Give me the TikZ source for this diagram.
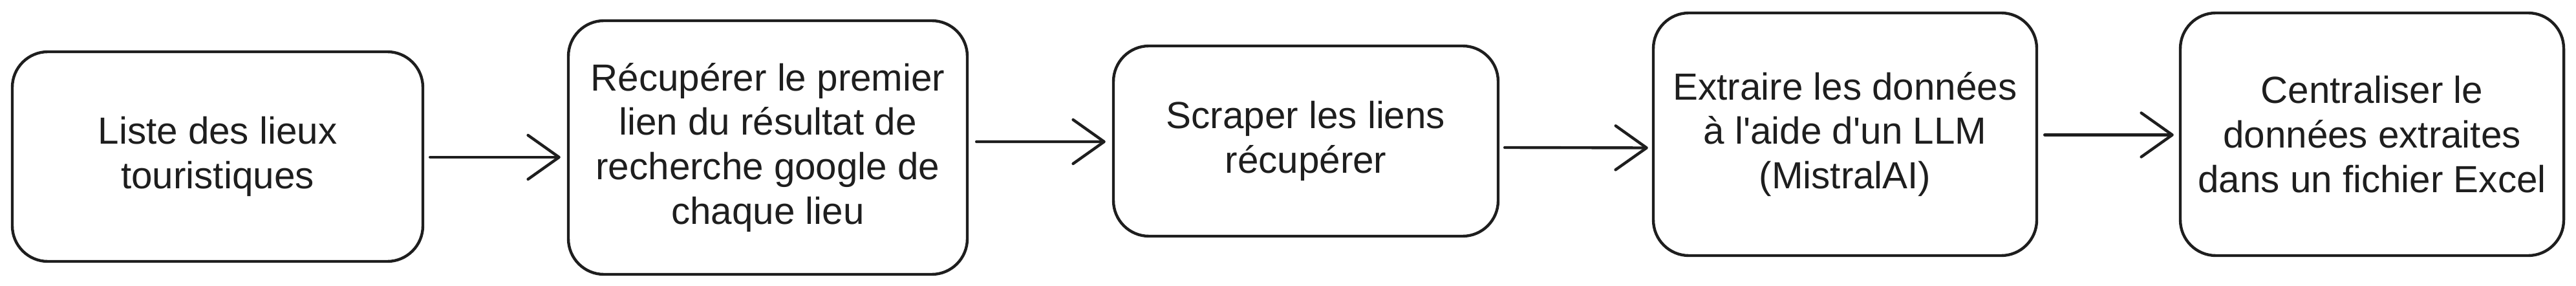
\documentclass[tikz,border=0pt]{standalone}
\usepackage{fontspec}
\setmainfont{Liberation Sans}
\usetikzlibrary{arrows.meta,calc}
\definecolor{ink}{HTML}{1E1E1E}
\tikzset{
  stepbox/.style={draw=ink, line width=1.25pt, rounded corners=0.55cm, inner sep=0pt,
    align=center, text=ink, font=\fontsize{16.6}{19.6}\selectfont},
  arr/.style={draw=ink, line width=1.25pt, line cap=round,
    -{Straight Barb[length=0.48cm,width=0.68cm,line cap=round,line join=round]}}
}
\begin{document}
\begin{tikzpicture}
\useasboundingbox (0,0) rectangle (39.84,-4.42);
\node[stepbox, minimum width=6.35cm, minimum height=3.24cm] (b1) at (3.365,-2.42)
  {Liste des lieux\\touristiques};
\node[stepbox, minimum width=6.17cm, minimum height=3.92cm] (b2) at (11.875,-2.28)
  {Récupérer le premier\\lien du résultat de\\recherche google de\\chaque lieu};
\node[stepbox, minimum width=5.95cm, minimum height=2.94cm] (b3) at (20.195,-2.18)
  {Scraper les liens\\récupérer};
\node[stepbox, minimum width=5.93cm, minimum height=3.75cm] (b4) at (28.535,-2.075)
  {Extraire les données\\à l\textquotesingle aide d\textquotesingle un LLM\\(MistralAI)};
\node[stepbox, minimum width=5.93cm, minimum height=3.75cm] (b5) at (36.685,-2.075)
  {Centraliser le\\données extraites\\dans un fichier Excel};
\draw[arr] ([xshift=0.09cm,yshift=-0.01cm]b1.east) -- ([xshift=-0.1cm,yshift=-0.15cm]b2.west);
\draw[arr] ([xshift=0.12cm,yshift=0.09cm]b2.east) -- ([xshift=-0.1cm,yshift=-0.01cm]b3.west);
\draw[arr] ([xshift=0.08cm,yshift=-0.10cm]b3.east) -- ([xshift=-0.06cm,yshift=-0.21cm]b4.west);
\draw[arr] ([xshift=0.1cm,yshift=-0.01cm]b4.east) -- ([xshift=-0.08cm,yshift=-0.01cm]b5.west);
\end{tikzpicture}
\end{document}
